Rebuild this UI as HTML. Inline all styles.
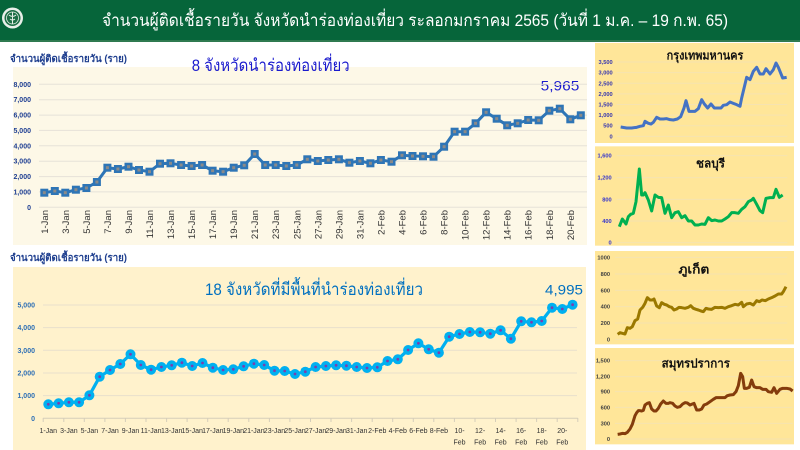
<!DOCTYPE html>
<html><head><meta charset="utf-8"><style>
html,body{margin:0;padding:0;background:#fff;}
body{width:800px;height:450px;overflow:hidden;position:relative;font-family:"Liberation Sans","DejaVu Sans","Noto Sans CJK SC",sans-serif;}
svg{position:absolute;display:block;}
text{font-family:"Liberation Sans","DejaVu Sans","Noto Sans CJK SC",sans-serif;}
</style></head><body>
<svg width="800" height="450" viewBox="0 0 800 450" style="left:0;top:0">
<!-- header -->
<rect x="0" y="0" width="800" height="40" fill="#06653a"/>
<rect x="0" y="40" width="800" height="2" fill="#2f7a50"/>
<circle cx="12.5" cy="18" r="10.5" fill="#e8efe9"/>
<circle cx="12.5" cy="18" r="8" fill="#1d6e45"/>
<circle cx="12.5" cy="18" r="6" fill="none" stroke="#e8efe9" stroke-width="0.8"/>
<path d="M12.5 12 V24 M9 15 Q12.5 18 16 15 M10 19 Q12.5 21 15 19" stroke="#e8efe9" stroke-width="1" fill="none"/>
<text x="102" y="26" font-size="17" fill="#ffffff" textLength="626" lengthAdjust="spacingAndGlyphs">จำนวนผู้ติดเชื้อรายวัน  จังหวัดนำร่องท่องเที่ยว ระลอกมกราคม 2565 (วันที่ 1 ม.ค. – 19 ก.พ. 65)</text>

<!-- TOP CHART -->
<rect x="13" y="67" width="574" height="178" fill="#fdf8e7"/>
<text x="10" y="62" font-size="10" font-weight="bold" fill="#1f3f8f" textLength="117" lengthAdjust="spacingAndGlyphs">จำนวนผู้ติดเชื้อรายวัน (ราย)</text>
<text x="191.7" y="71" font-size="17" fill="#1a1acd" textLength="158" lengthAdjust="spacingAndGlyphs">8 จังหวัดนำร่องท่องเที่ยว</text>
<text x="540.7" y="90.7" font-size="14" fill="#1a1acd" textLength="38.6" lengthAdjust="spacingAndGlyphs">5,965</text>
<g stroke="#e6e2d8" stroke-width="1">
<line x1="39" x2="587" y1="207.3" y2="207.3"/>
<line x1="39" x2="587" y1="191.9" y2="191.9"/>
<line x1="39" x2="587" y1="176.6" y2="176.6"/>
<line x1="39" x2="587" y1="161.2" y2="161.2"/>
<line x1="39" x2="587" y1="145.8" y2="145.8"/>
<line x1="39" x2="587" y1="130.4" y2="130.4"/>
<line x1="39" x2="587" y1="115.1" y2="115.1"/>
<line x1="39" x2="587" y1="99.7" y2="99.7"/>
<line x1="39" x2="587" y1="84.3" y2="84.3"/>
</g>
<g font-size="7" font-weight="bold" fill="#1f3f93" text-anchor="end">
<text x="31" y="209.8">0</text>
<text x="31" y="194.4">1,000</text>
<text x="31" y="179.1">2,000</text>
<text x="31" y="163.7">3,000</text>
<text x="31" y="148.3">4,000</text>
<text x="31" y="132.9">5,000</text>
<text x="31" y="117.6">6,000</text>
<text x="31" y="102.2">7,000</text>
<text x="31" y="86.8">8,000</text>
</g>
<g font-size="9.5" fill="#333" text-anchor="end">
<text transform="translate(47.8,210) rotate(-90)">1-Jan</text>
<text transform="translate(68.8,210) rotate(-90)">3-Jan</text>
<text transform="translate(89.9,210) rotate(-90)">5-Jan</text>
<text transform="translate(110.9,210) rotate(-90)">7-Jan</text>
<text transform="translate(132.0,210) rotate(-90)">9-Jan</text>
<text transform="translate(153.0,210) rotate(-90)">11-Jan</text>
<text transform="translate(174.0,210) rotate(-90)">13-Jan</text>
<text transform="translate(195.1,210) rotate(-90)">15-Jan</text>
<text transform="translate(216.1,210) rotate(-90)">17-Jan</text>
<text transform="translate(237.2,210) rotate(-90)">19-Jan</text>
<text transform="translate(258.2,210) rotate(-90)">21-Jan</text>
<text transform="translate(279.2,210) rotate(-90)">23-Jan</text>
<text transform="translate(300.3,210) rotate(-90)">25-Jan</text>
<text transform="translate(321.3,210) rotate(-90)">27-Jan</text>
<text transform="translate(342.4,210) rotate(-90)">29-Jan</text>
<text transform="translate(363.4,210) rotate(-90)">31-Jan</text>
<text transform="translate(384.4,210) rotate(-90)">2-Feb</text>
<text transform="translate(405.5,210) rotate(-90)">4-Feb</text>
<text transform="translate(426.5,210) rotate(-90)">6-Feb</text>
<text transform="translate(447.6,210) rotate(-90)">8-Feb</text>
<text transform="translate(468.6,210) rotate(-90)">10-Feb</text>
<text transform="translate(489.6,210) rotate(-90)">12-Feb</text>
<text transform="translate(510.7,210) rotate(-90)">14-Feb</text>
<text transform="translate(531.7,210) rotate(-90)">16-Feb</text>
<text transform="translate(552.8,210) rotate(-90)">18-Feb</text>
<text transform="translate(573.8,210) rotate(-90)">20-Feb</text>
</g>
<polyline fill="none" stroke="#2e75b6" stroke-width="3" stroke-linejoin="round" points="44.3,192.7 54.8,191.0 65.3,192.7 75.9,189.7 86.4,188.0 96.9,182.0 107.4,167.7 117.9,169.0 128.5,166.7 139.0,170.0 149.5,171.7 160.0,163.7 170.5,163.3 181.1,165.0 191.6,166.0 202.1,165.0 212.6,170.7 223.1,171.7 233.7,167.7 244.2,165.3 254.7,154.0 265.2,165.0 275.7,165.0 286.3,166.0 296.8,165.0 307.3,159.3 317.8,161.0 328.3,160.0 338.9,159.3 349.4,162.7 359.9,161.0 370.4,163.3 380.9,160.0 391.5,161.7 402.0,155.3 412.5,156.0 423.0,156.3 433.5,156.7 444.1,146.7 454.6,131.7 465.1,131.7 475.6,123.3 486.1,112.3 496.7,118.7 507.2,125.3 517.7,123.3 528.2,120.0 538.7,120.3 549.3,110.7 559.8,108.7 570.3,119.3 580.8,115.3"/>
<g fill="#2e75b6">
<rect x="40.3" y="188.7" width="8" height="8"/><rect x="50.8" y="187.0" width="8" height="8"/><rect x="61.3" y="188.7" width="8" height="8"/><rect x="71.9" y="185.7" width="8" height="8"/><rect x="82.4" y="184.0" width="8" height="8"/><rect x="92.9" y="178.0" width="8" height="8"/><rect x="103.4" y="163.7" width="8" height="8"/><rect x="113.9" y="165.0" width="8" height="8"/><rect x="124.5" y="162.7" width="8" height="8"/><rect x="135.0" y="166.0" width="8" height="8"/><rect x="145.5" y="167.7" width="8" height="8"/><rect x="156.0" y="159.7" width="8" height="8"/><rect x="166.5" y="159.3" width="8" height="8"/><rect x="177.1" y="161.0" width="8" height="8"/><rect x="187.6" y="162.0" width="8" height="8"/><rect x="198.1" y="161.0" width="8" height="8"/><rect x="208.6" y="166.7" width="8" height="8"/><rect x="219.1" y="167.7" width="8" height="8"/><rect x="229.7" y="163.7" width="8" height="8"/><rect x="240.2" y="161.3" width="8" height="8"/><rect x="250.7" y="150.0" width="8" height="8"/><rect x="261.2" y="161.0" width="8" height="8"/><rect x="271.7" y="161.0" width="8" height="8"/><rect x="282.3" y="162.0" width="8" height="8"/><rect x="292.8" y="161.0" width="8" height="8"/><rect x="303.3" y="155.3" width="8" height="8"/><rect x="313.8" y="157.0" width="8" height="8"/><rect x="324.3" y="156.0" width="8" height="8"/><rect x="334.9" y="155.3" width="8" height="8"/><rect x="345.4" y="158.7" width="8" height="8"/><rect x="355.9" y="157.0" width="8" height="8"/><rect x="366.4" y="159.3" width="8" height="8"/><rect x="376.9" y="156.0" width="8" height="8"/><rect x="387.5" y="157.7" width="8" height="8"/><rect x="398.0" y="151.3" width="8" height="8"/><rect x="408.5" y="152.0" width="8" height="8"/><rect x="419.0" y="152.3" width="8" height="8"/><rect x="429.5" y="152.7" width="8" height="8"/><rect x="440.1" y="142.7" width="8" height="8"/><rect x="450.6" y="127.7" width="8" height="8"/><rect x="461.1" y="127.7" width="8" height="8"/><rect x="471.6" y="119.3" width="8" height="8"/><rect x="482.1" y="108.3" width="8" height="8"/><rect x="492.7" y="114.7" width="8" height="8"/><rect x="503.2" y="121.3" width="8" height="8"/><rect x="513.7" y="119.3" width="8" height="8"/><rect x="524.2" y="116.0" width="8" height="8"/><rect x="534.7" y="116.3" width="8" height="8"/><rect x="545.3" y="106.7" width="8" height="8"/><rect x="555.8" y="104.7" width="8" height="8"/><rect x="566.3" y="115.3" width="8" height="8"/><rect x="576.8" y="111.3" width="8" height="8"/>
</g>
<g fill="#8a8a8a">
<rect x="42.8" y="191.2" width="3" height="3"/><rect x="53.3" y="189.5" width="3" height="3"/><rect x="63.8" y="191.2" width="3" height="3"/><rect x="74.4" y="188.2" width="3" height="3"/><rect x="84.9" y="186.5" width="3" height="3"/><rect x="95.4" y="180.5" width="3" height="3"/><rect x="105.9" y="166.2" width="3" height="3"/><rect x="116.4" y="167.5" width="3" height="3"/><rect x="127.0" y="165.2" width="3" height="3"/><rect x="137.5" y="168.5" width="3" height="3"/><rect x="148.0" y="170.2" width="3" height="3"/><rect x="158.5" y="162.2" width="3" height="3"/><rect x="169.0" y="161.8" width="3" height="3"/><rect x="179.6" y="163.5" width="3" height="3"/><rect x="190.1" y="164.5" width="3" height="3"/><rect x="200.6" y="163.5" width="3" height="3"/><rect x="211.1" y="169.2" width="3" height="3"/><rect x="221.6" y="170.2" width="3" height="3"/><rect x="232.2" y="166.2" width="3" height="3"/><rect x="242.7" y="163.8" width="3" height="3"/><rect x="253.2" y="152.5" width="3" height="3"/><rect x="263.7" y="163.5" width="3" height="3"/><rect x="274.2" y="163.5" width="3" height="3"/><rect x="284.8" y="164.5" width="3" height="3"/><rect x="295.3" y="163.5" width="3" height="3"/><rect x="305.8" y="157.8" width="3" height="3"/><rect x="316.3" y="159.5" width="3" height="3"/><rect x="326.8" y="158.5" width="3" height="3"/><rect x="337.4" y="157.8" width="3" height="3"/><rect x="347.9" y="161.2" width="3" height="3"/><rect x="358.4" y="159.5" width="3" height="3"/><rect x="368.9" y="161.8" width="3" height="3"/><rect x="379.4" y="158.5" width="3" height="3"/><rect x="390.0" y="160.2" width="3" height="3"/><rect x="400.5" y="153.8" width="3" height="3"/><rect x="411.0" y="154.5" width="3" height="3"/><rect x="421.5" y="154.8" width="3" height="3"/><rect x="432.0" y="155.2" width="3" height="3"/><rect x="442.6" y="145.2" width="3" height="3"/><rect x="453.1" y="130.2" width="3" height="3"/><rect x="463.6" y="130.2" width="3" height="3"/><rect x="474.1" y="121.8" width="3" height="3"/><rect x="484.6" y="110.8" width="3" height="3"/><rect x="495.2" y="117.2" width="3" height="3"/><rect x="505.7" y="123.8" width="3" height="3"/><rect x="516.2" y="121.8" width="3" height="3"/><rect x="526.7" y="118.5" width="3" height="3"/><rect x="537.2" y="118.8" width="3" height="3"/><rect x="547.8" y="109.2" width="3" height="3"/><rect x="558.3" y="107.2" width="3" height="3"/><rect x="568.8" y="117.8" width="3" height="3"/><rect x="579.3" y="113.8" width="3" height="3"/>
</g>

<!-- BOTTOM CHART -->
<text x="10" y="261" font-size="10" font-weight="bold" fill="#1f3f8f" textLength="117" lengthAdjust="spacingAndGlyphs">จำนวนผู้ติดเชื้อรายวัน (ราย)</text>
<rect x="13" y="267" width="573" height="183" fill="#fff2cc"/>
<text x="205" y="295" font-size="17" fill="#0070c0" textLength="218" lengthAdjust="spacingAndGlyphs">18 จังหวัดที่มีพื้นที่นำร่องท่องเที่ยว</text>
<text x="545" y="294.3" font-size="14" fill="#0070c0" textLength="38" lengthAdjust="spacingAndGlyphs">4,995</text>
<g stroke="#e8e0cc" stroke-width="1">
<line x1="43" x2="577" y1="395.6" y2="395.6"/>
<line x1="43" x2="577" y1="373.0" y2="373.0"/>
<line x1="43" x2="577" y1="350.3" y2="350.3"/>
<line x1="43" x2="577" y1="327.6" y2="327.6"/>
<line x1="43" x2="577" y1="305.0" y2="305.0"/>
</g>
<line x1="43" x2="577.8" y1="418.3" y2="418.3" stroke="#d6ceba" stroke-width="1"/>
<g stroke="#d6ceba" stroke-width="1">
<path d="M43.2 418V422 M63.8 418V422 M84.3 418V422 M104.9 418V422 M125.4 418V422 M146.0 418V422 M166.6 418V422 M187.1 418V422 M207.7 418V422 M228.2 418V422 M248.8 418V422 M269.4 418V422 M289.9 418V422 M310.5 418V422 M331.0 418V422 M351.6 418V422 M372.2 418V422 M392.7 418V422 M413.3 418V422 M433.8 418V422 M454.4 418V422 M475.0 418V422 M495.5 418V422 M516.1 418V422 M536.6 418V422 M557.2 418V422 M577.8 418V422"/>
</g>
<g font-size="7" font-weight="bold" fill="#2e6fb5" text-anchor="end">
<text x="35" y="420.8">0</text>
<text x="35" y="398.1">1,000</text>
<text x="35" y="375.5">2,000</text>
<text x="35" y="352.8">3,000</text>
<text x="35" y="330.1">4,000</text>
<text x="35" y="307.5">5,000</text>
</g>
<g font-size="7" fill="#333" text-anchor="middle">
<text x="48.3" y="433">1-Jan</text>
<text x="68.9" y="433">3-Jan</text>
<text x="89.4" y="433">5-Jan</text>
<text x="110.0" y="433">7-Jan</text>
<text x="130.5" y="433">9-Jan</text>
<text x="151.1" y="433">11-Jan</text>
<text x="171.7" y="433">13-Jan</text>
<text x="192.2" y="433">15-Jan</text>
<text x="212.8" y="433">17-Jan</text>
<text x="233.3" y="433">19-Jan</text>
<text x="253.9" y="433">21-Jan</text>
<text x="274.5" y="433">23-Jan</text>
<text x="295.0" y="433">25-Jan</text>
<text x="315.6" y="433">27-Jan</text>
<text x="336.1" y="433">29-Jan</text>
<text x="356.7" y="433">31-Jan</text>
<text x="377.3" y="433">2-Feb</text>
<text x="397.8" y="433">4-Feb</text>
<text x="418.4" y="433">6-Feb</text>
<text x="438.9" y="433">8-Feb</text>
<text x="459.5" y="433">10-</text><text x="459.5" y="444.5">Feb</text>
<text x="480.1" y="433">12-</text><text x="480.1" y="444.5">Feb</text>
<text x="500.6" y="433">14-</text><text x="500.6" y="444.5">Feb</text>
<text x="521.2" y="433">16-</text><text x="521.2" y="444.5">Feb</text>
<text x="541.7" y="433">18-</text><text x="541.7" y="444.5">Feb</text>
<text x="562.3" y="433">20-</text><text x="562.3" y="444.5">Feb</text>
</g>
<polyline fill="none" stroke="#00b0f0" stroke-width="3.2" stroke-linejoin="round" points="48.3,404.3 58.6,403.3 68.9,402.3 79.1,402.3 89.4,395.3 99.7,376.7 110.0,370.0 120.3,364.0 130.5,354.3 140.8,365.0 151.1,369.7 161.4,367.0 171.7,365.3 181.9,362.7 192.2,366.0 202.5,363.0 212.8,367.7 223.1,370.0 233.3,369.3 243.6,366.3 253.9,363.7 264.2,365.0 274.5,370.7 284.7,371.0 295.0,374.0 305.3,371.7 315.6,367.0 325.9,366.0 336.1,365.3 346.4,365.7 356.7,367.0 367.0,368.0 377.3,367.3 387.5,361.0 397.8,359.3 408.1,350.0 418.4,343.3 428.7,349.3 438.9,352.7 449.2,336.7 459.5,334.0 469.8,332.0 480.1,332.3 490.3,333.7 500.6,330.3 510.9,338.7 521.2,321.3 531.5,322.3 541.7,321.0 552.0,307.7 562.3,309.0 572.6,304.7"/>
<g fill="#00b0f0">
<circle cx="48.3" cy="404.3" r="5"/><circle cx="58.6" cy="403.3" r="5"/><circle cx="68.9" cy="402.3" r="5"/><circle cx="79.1" cy="402.3" r="5"/><circle cx="89.4" cy="395.3" r="5"/><circle cx="99.7" cy="376.7" r="5"/><circle cx="110.0" cy="370.0" r="5"/><circle cx="120.3" cy="364.0" r="5"/><circle cx="130.5" cy="354.3" r="5"/><circle cx="140.8" cy="365.0" r="5"/><circle cx="151.1" cy="369.7" r="5"/><circle cx="161.4" cy="367.0" r="5"/><circle cx="171.7" cy="365.3" r="5"/><circle cx="181.9" cy="362.7" r="5"/><circle cx="192.2" cy="366.0" r="5"/><circle cx="202.5" cy="363.0" r="5"/><circle cx="212.8" cy="367.7" r="5"/><circle cx="223.1" cy="370.0" r="5"/><circle cx="233.3" cy="369.3" r="5"/><circle cx="243.6" cy="366.3" r="5"/><circle cx="253.9" cy="363.7" r="5"/><circle cx="264.2" cy="365.0" r="5"/><circle cx="274.5" cy="370.7" r="5"/><circle cx="284.7" cy="371.0" r="5"/><circle cx="295.0" cy="374.0" r="5"/><circle cx="305.3" cy="371.7" r="5"/><circle cx="315.6" cy="367.0" r="5"/><circle cx="325.9" cy="366.0" r="5"/><circle cx="336.1" cy="365.3" r="5"/><circle cx="346.4" cy="365.7" r="5"/><circle cx="356.7" cy="367.0" r="5"/><circle cx="367.0" cy="368.0" r="5"/><circle cx="377.3" cy="367.3" r="5"/><circle cx="387.5" cy="361.0" r="5"/><circle cx="397.8" cy="359.3" r="5"/><circle cx="408.1" cy="350.0" r="5"/><circle cx="418.4" cy="343.3" r="5"/><circle cx="428.7" cy="349.3" r="5"/><circle cx="438.9" cy="352.7" r="5"/><circle cx="449.2" cy="336.7" r="5"/><circle cx="459.5" cy="334.0" r="5"/><circle cx="469.8" cy="332.0" r="5"/><circle cx="480.1" cy="332.3" r="5"/><circle cx="490.3" cy="333.7" r="5"/><circle cx="500.6" cy="330.3" r="5"/><circle cx="510.9" cy="338.7" r="5"/><circle cx="521.2" cy="321.3" r="5"/><circle cx="531.5" cy="322.3" r="5"/><circle cx="541.7" cy="321.0" r="5"/><circle cx="552.0" cy="307.7" r="5"/><circle cx="562.3" cy="309.0" r="5"/><circle cx="572.6" cy="304.7" r="5"/>
</g>
<g fill="#7a3fae">
<circle cx="48.3" cy="404.3" r="1.4"/><circle cx="58.6" cy="403.3" r="1.4"/><circle cx="68.9" cy="402.3" r="1.4"/><circle cx="79.1" cy="402.3" r="1.4"/><circle cx="89.4" cy="395.3" r="1.4"/><circle cx="99.7" cy="376.7" r="1.4"/><circle cx="110.0" cy="370.0" r="1.4"/><circle cx="120.3" cy="364.0" r="1.4"/><circle cx="130.5" cy="354.3" r="1.4"/><circle cx="140.8" cy="365.0" r="1.4"/><circle cx="151.1" cy="369.7" r="1.4"/><circle cx="161.4" cy="367.0" r="1.4"/><circle cx="171.7" cy="365.3" r="1.4"/><circle cx="181.9" cy="362.7" r="1.4"/><circle cx="192.2" cy="366.0" r="1.4"/><circle cx="202.5" cy="363.0" r="1.4"/><circle cx="212.8" cy="367.7" r="1.4"/><circle cx="223.1" cy="370.0" r="1.4"/><circle cx="233.3" cy="369.3" r="1.4"/><circle cx="243.6" cy="366.3" r="1.4"/><circle cx="253.9" cy="363.7" r="1.4"/><circle cx="264.2" cy="365.0" r="1.4"/><circle cx="274.5" cy="370.7" r="1.4"/><circle cx="284.7" cy="371.0" r="1.4"/><circle cx="295.0" cy="374.0" r="1.4"/><circle cx="305.3" cy="371.7" r="1.4"/><circle cx="315.6" cy="367.0" r="1.4"/><circle cx="325.9" cy="366.0" r="1.4"/><circle cx="336.1" cy="365.3" r="1.4"/><circle cx="346.4" cy="365.7" r="1.4"/><circle cx="356.7" cy="367.0" r="1.4"/><circle cx="367.0" cy="368.0" r="1.4"/><circle cx="377.3" cy="367.3" r="1.4"/><circle cx="387.5" cy="361.0" r="1.4"/><circle cx="397.8" cy="359.3" r="1.4"/><circle cx="408.1" cy="350.0" r="1.4"/><circle cx="418.4" cy="343.3" r="1.4"/><circle cx="428.7" cy="349.3" r="1.4"/><circle cx="438.9" cy="352.7" r="1.4"/><circle cx="449.2" cy="336.7" r="1.4"/><circle cx="459.5" cy="334.0" r="1.4"/><circle cx="469.8" cy="332.0" r="1.4"/><circle cx="480.1" cy="332.3" r="1.4"/><circle cx="490.3" cy="333.7" r="1.4"/><circle cx="500.6" cy="330.3" r="1.4"/><circle cx="510.9" cy="338.7" r="1.4"/><circle cx="521.2" cy="321.3" r="1.4"/><circle cx="531.5" cy="322.3" r="1.4"/><circle cx="541.7" cy="321.0" r="1.4"/><circle cx="552.0" cy="307.7" r="1.4"/><circle cx="562.3" cy="309.0" r="1.4"/><circle cx="572.6" cy="304.7" r="1.4"/>
</g>
</svg>

<!-- Panel 1: Bangkok -->
<svg width="210" height="110" viewBox="0 0 630 330" style="left:590px;top:38px">
<rect x="15" y="15" width="597" height="300" fill="#ffe699"/>
<g stroke="#f6e3b0" stroke-width="3">
<line x1="80" x2="592" y1="295" y2="295"/><line x1="80" x2="592" y1="263.1" y2="263.1"/><line x1="80" x2="592" y1="231.3" y2="231.3"/><line x1="80" x2="592" y1="199.4" y2="199.4"/><line x1="80" x2="592" y1="167.6" y2="167.6"/><line x1="80" x2="592" y1="135.7" y2="135.7"/><line x1="80" x2="592" y1="103.9" y2="103.9"/><line x1="80" x2="592" y1="72" y2="72"/>
</g>
<g font-size="17" font-weight="bold" fill="#3535b0" text-anchor="end">
<text x="68" y="301">0</text><text x="68" y="269">500</text><text x="68" y="237">1,000</text><text x="68" y="205">1,500</text><text x="68" y="174">2,000</text><text x="68" y="142">2,500</text><text x="68" y="110">3,000</text><text x="68" y="78">3,500</text>
</g>
<text x="230" y="65" font-size="36" font-weight="bold" fill="#111" textLength="230" lengthAdjust="spacingAndGlyphs">กรุงเทพมหานคร</text>
<polyline fill="none" stroke="#4472c4" stroke-width="9" stroke-linejoin="round" points="92,267 110,270 125,270 140,268 150,265 160,263 165,250 175,256 183,258 190,253 200,238 210,243 220,243 230,242 240,245 250,246 262,243 272,236 282,210 288,188 297,220 305,220 315,220 325,212 335,185 343,198 353,210 363,198 373,210 383,210 393,210 400,202 410,200 420,192 430,196 440,200 450,205 455,180 470,118 480,125 490,100 500,88 510,108 520,108 528,92 540,108 550,95 558,75 565,88 578,120 590,118"/>
</svg>

<!-- Panel 2: Chonburi -->
<svg width="210" height="110" viewBox="0 0 630 330" style="left:590px;top:145px">
<rect x="15" y="4" width="597" height="298" fill="#ffe699"/>
<g stroke="#f6e3b0" stroke-width="3">
<line x1="80" x2="592" y1="293" y2="293"/><line x1="80" x2="592" y1="228" y2="228"/><line x1="80" x2="592" y1="163" y2="163"/><line x1="80" x2="592" y1="98" y2="98"/><line x1="80" x2="592" y1="32" y2="32"/>
</g>
<g font-size="17" font-weight="bold" fill="#3535cc" text-anchor="end">
<text x="65" y="299">0</text><text x="65" y="234">400</text><text x="65" y="169">800</text><text x="65" y="104">1,200</text><text x="65" y="38">1,600</text>
</g>
<text x="318" y="67" font-size="36" font-weight="bold" fill="#111" textLength="87" lengthAdjust="spacingAndGlyphs">ชลบุรี</text>
<polyline fill="none" stroke="#00b050" stroke-width="9" stroke-linejoin="round" points="88,245 97,222 103,230 108,237 115,215 122,208 130,205 138,170 148,72 155,150 160,150 165,143 175,165 185,198 195,150 205,157 215,158 225,205 235,180 245,218 255,203 265,200 275,218 285,212 295,228 305,228 315,240 325,240 335,237 345,238 355,218 365,227 375,225 385,228 395,228 405,222 415,215 425,203 435,203 445,205 455,193 465,185 475,170 485,165 490,160 500,178 510,197 518,203 528,160 540,158 550,158 558,133 568,157 578,150"/>
</svg>

<!-- Panel 3: Phuket -->
<svg width="210" height="100" viewBox="0 0 630 300" style="left:590px;top:250px">
<rect x="15" y="3" width="597" height="280" fill="#ffe699"/>
<g stroke="#f6e3b0" stroke-width="3">
<line x1="75" x2="592" y1="268" y2="268"/><line x1="75" x2="592" y1="219" y2="219"/><line x1="75" x2="592" y1="170" y2="170"/><line x1="75" x2="592" y1="121" y2="121"/><line x1="75" x2="592" y1="72" y2="72"/><line x1="75" x2="592" y1="22" y2="22"/>
</g>
<g font-size="17" font-weight="bold" fill="#404040" text-anchor="end">
<text x="60" y="274">0</text><text x="60" y="225">200</text><text x="60" y="176">400</text><text x="60" y="127">600</text><text x="60" y="78">800</text><text x="60" y="28">1000</text>
</g>
<text x="265" y="70" font-size="36" font-weight="bold" fill="#111" textLength="93" lengthAdjust="spacingAndGlyphs">ภูเก็ต</text>
<polyline fill="none" stroke="#9a7800" stroke-width="9" stroke-linejoin="round" points="83,253 90,248 97,250 105,252 112,233 120,235 127,230 135,212 143,207 150,180 158,172 165,160 172,143 180,150 187,150 192,147 200,168 208,173 215,158 223,163 230,165 238,170 245,172 252,180 260,177 267,172 275,173 285,175 295,172 302,167 310,175 318,178 325,180 333,183 340,185 348,175 355,177 365,178 375,172 385,173 395,172 405,175 415,170 425,167 435,163 445,165 455,157 460,170 470,162 480,160 490,165 500,152 508,155 516,150 526,152 535,147 545,143 555,138 565,132 575,132 580,125 588,110"/>
</svg>

<!-- Panel 4: Samut Prakan -->
<svg width="210" height="105" viewBox="0 0 630 315" style="left:590px;top:345px">
<rect x="15" y="9" width="597" height="289" fill="#ffe699"/>
<g stroke="#f6e3b0" stroke-width="3">
<line x1="75" x2="608" y1="282" y2="282"/><line x1="75" x2="608" y1="235" y2="235"/><line x1="75" x2="608" y1="187" y2="187"/><line x1="75" x2="608" y1="140" y2="140"/><line x1="75" x2="608" y1="95" y2="95"/><line x1="75" x2="608" y1="47" y2="47"/>
</g>
<g font-size="17" font-weight="bold" fill="#404040" text-anchor="end">
<text x="60" y="288">0</text><text x="60" y="241">300</text><text x="60" y="193">600</text><text x="60" y="146">900</text><text x="60" y="101">1,200</text><text x="60" y="53">1,500</text>
</g>
<text x="215" y="68" font-size="36" font-weight="bold" fill="#111" textLength="205" lengthAdjust="spacingAndGlyphs">สมุทรปราการ</text>
<polyline fill="none" stroke="#843c0c" stroke-width="9" stroke-linejoin="round" points="83,268 90,267 98,265 105,266 112,262 120,252 127,238 135,212 140,203 145,197 150,197 155,198 160,196 165,180 172,175 178,173 185,192 192,198 198,198 205,190 212,177 220,168 228,175 235,175 240,173 248,175 255,183 262,187 270,185 278,177 285,173 292,174 300,180 307,177 312,175 320,195 328,195 335,192 342,180 350,177 360,170 370,163 378,158 385,158 395,158 405,158 412,152 420,150 430,149 438,140 445,122 452,85 458,95 463,130 470,130 478,127 485,105 492,125 500,128 510,128 518,133 528,133 535,140 545,142 552,128 560,145 570,133 578,130 590,130 600,132 608,138"/>
</svg>
</body></html>
